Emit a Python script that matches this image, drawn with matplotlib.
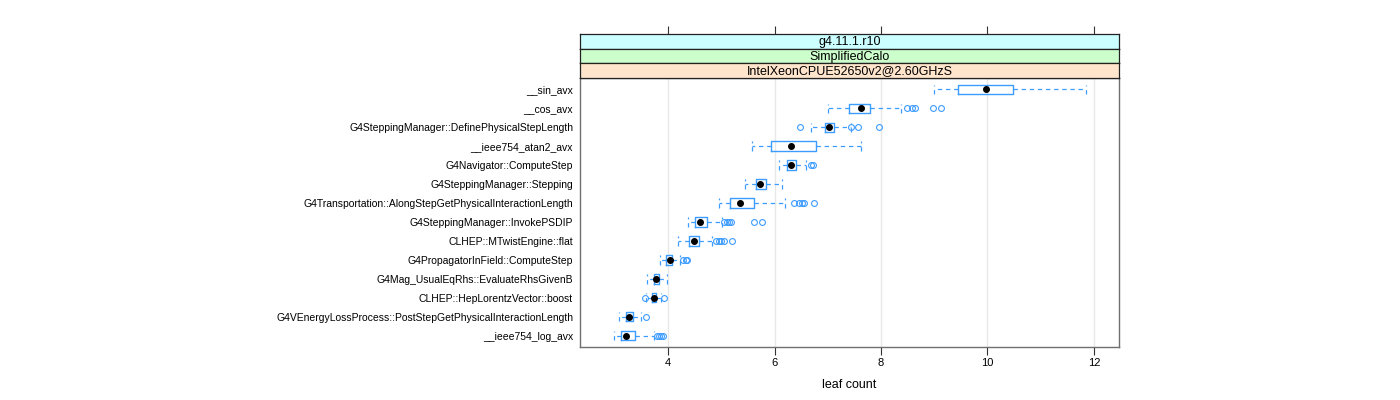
import numpy as np
import matplotlib
matplotlib.use("Agg")
import matplotlib.pyplot as plt

plt.rcParams['font.family'] = ['Liberation Sans', 'DejaVu Sans']

# functions, top to bottom
names = [
    "__sin_avx",
    "__cos_avx",
    "G4SteppingManager::DefinePhysicalStepLength",
    "__ieee754_atan2_avx",
    "G4Navigator::ComputeStep",
    "G4SteppingManager::Stepping",
    "G4Transportation::AlongStepGetPhysicalInteractionLength",
    "G4SteppingManager::InvokePSDIP",
    "CLHEP::MTwistEngine::flat",
    "G4PropagatorInField::ComputeStep",
    "G4Mag_UsualEqRhs::EvaluateRhsGivenB",
    "CLHEP::HepLorentzVector::boost",
    "G4VEnergyLossProcess::PostStepGetPhysicalInteractionLength",
    "__ieee754_log_avx",
]

whislo = [9.00, 7.01, 6.68, 5.57, 6.08, 5.44, 4.95, 4.38, 4.18, 3.85, 3.60, 3.59, 3.08, 2.98]
q1     = [9.44, 7.39, 6.94, 5.94, 6.24, 5.65, 5.17, 4.51, 4.39, 3.96, 3.73, 3.69, 3.21, 3.11]
med    = [9.97, 7.62, 7.02, 6.31, 6.31, 5.72, 5.35, 4.60, 4.48, 4.03, 3.78, 3.73, 3.27, 3.21]
q3     = [10.48, 7.79, 7.12, 6.78, 6.41, 5.84, 5.61, 4.73, 4.58, 4.08, 3.83, 3.77, 3.35, 3.38]
whishi = [11.85, 8.38, 7.43, 7.63, 6.59, 6.15, 6.19, 5.01, 4.83, 4.22, 3.99, 3.86, 3.50, 3.73]
outliers = [
    [],
    [8.49, 8.59, 8.63, 8.98, 9.12],
    [6.48, 7.43, 7.57, 7.97],
    [],
    [6.69, 6.72],
    [],
    [6.36, 6.46, 6.52, 6.56, 6.74],
    [5.05, 5.10, 5.14, 5.19, 5.61, 5.76],
    [4.90, 4.95, 4.99, 5.05, 5.21],
    [4.28, 4.33, 4.36],
    [],
    [3.57, 3.92],
    [3.58],
    [3.80, 3.83, 3.87, 3.90],
]

strips = ["g4.11.1.r10", "SimplifiedCalo", "IntelXeonCPUE52650v2@2.60GHzS"]
strip_cols = ["#ccffff", "#ccffcc", "#ffe5cc"]
xticks = [4, 6, 8, 10, 12]

blue = "#3d9cff"
n = len(names)
pos = np.arange(n, 0, -1)

fig = plt.figure(figsize=(14, 4), dpi=100)
L, R = 580 / 1400, 1119 / 1400
ax = fig.add_axes([L, 1 - 347 / 400, R - L, (347 - 78) / 400])

stats = []
for i in range(n):
    stats.append(dict(med=med[i], q1=q1[i], q3=q3[i], whislo=whislo[i],
                      whishi=whishi[i], fliers=outliers[i]))

ax.bxp(stats, positions=pos, orientation='horizontal', widths=0.5,
       capwidths=0.5, patch_artist=False,
       boxprops=dict(color=blue, lw=1),
       whiskerprops=dict(color=blue, lw=0.9, ls=(0, (3.5, 3))),
       capprops=dict(color=blue, lw=0.9, ls=(0, (3.5, 3))),
       medianprops=dict(visible=False),
       flierprops=dict(marker='o', markerfacecolor='none',
                       markeredgecolor=blue, markersize=4.2, mew=0.8))
ax.plot(med, pos, 'o', color='black', ms=4, zorder=5)

ax.set_xlim(2.347, 12.47)
ax.set_ylim(0.4, n + 0.6)
ax.set_yticks(pos)
ax.set_yticklabels(names, fontsize=7.5)
ax.tick_params(axis='y', length=0, pad=5)
ax.set_xticks(xticks)
ax.set_xticklabels([str(t) for t in xticks], fontsize=8)
ax.tick_params(axis='x', direction='out', length=6, width=0.8, color='#333333', pad=2)
for t in xticks:
    ax.axvline(t, color='#e8e8e8', lw=1, zorder=0)
for s in ax.spines.values():
    s.set_color('#707070')
    s.set_linewidth(1)
ax.set_xlabel("leaf count", fontsize=9, labelpad=8)

# strips
sh = 44 / 3
for k, (txt, col) in enumerate(zip(strips, strip_cols)):
    top = 34 + k * sh
    sa = fig.add_axes([L, 1 - (top + sh) / 400, R - L, sh / 400])
    sa.set_facecolor(col)
    sa.set_xlim(2.347, 12.47)
    sa.set_yticks([])
    if k == 0:
        sa.xaxis.tick_top()
        sa.set_xticks(xticks)
        sa.set_xticklabels([])
        sa.tick_params(axis='x', direction='out', length=6, width=0.8, color='#333333')
    else:
        sa.set_xticks([])
    for s in sa.spines.values():
        s.set_color('#222222')
        s.set_linewidth(0.9)
    sa.text(0.5, 0.45, txt, transform=sa.transAxes, ha='center', va='center', fontsize=9)

fig.savefig("out.png", dpi=100)
